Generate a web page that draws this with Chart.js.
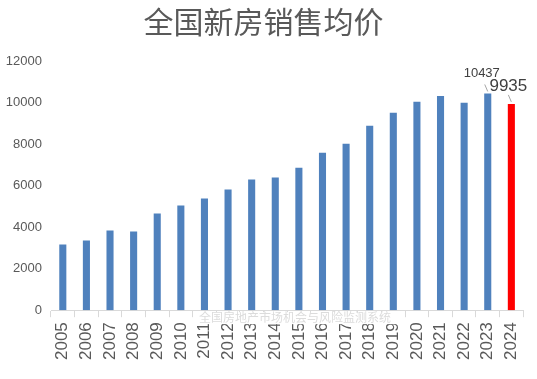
<!DOCTYPE html>
<html>
<head>
<meta charset="utf-8">
<script src="https://cdn.jsdelivr.net/npm/chart.js@4"></script>
<style>
  html, body { margin: 0; padding: 0; background: #fff; }
  #wrap { width: 537px; height: 379px; }
</style>
</head>
<body>
<div id="wrap"><canvas id="priceChart"></canvas></div>
<script>
const years = ['2005', '2006', '2007', '2008', '2009', '2010', '2011', '2012', '2013', '2014',
               '2015', '2016', '2017', '2018', '2019', '2020', '2021', '2022', '2023', '2024'];
const avgPrice = [3168, 3360, 3840, 3792, 4656, 5040, 5376, 5808, 6288, 6384,
                  6864, 7584, 8016, 8880, 9504, 10032, 10320, 9984, 10437, 9935];
const yTicks = [0, 2000, 4000, 6000, 8000, 10000, 12000];
const labelled = { '2023': '10437', '2024': '9935' };
const watermark = '全国房地产市场机会与风险监测系统';

const barColors = years.map(y => y === '2024' ? '#ff0000' : '#4f81bd');

// value labels with little leader lines + the grey watermark over the axis
const extrasPlugin = {
    id: 'extras',
    afterDraw(chart) {
        const c = chart.ctx;
        const meta = chart.getDatasetMeta(0);
        c.save();
        years.forEach((y, i) => {
            if (!labelled[y]) return;
            const bar = meta.data[i];
            const big = y === '2024';
            c.font = (big ? '17px' : '13px') + ' "Liberation Sans", Arial, sans-serif';
            c.fillStyle = '#404040';
            c.textAlign = 'center';
            c.textBaseline = 'middle';
            const tx = big ? bar.x - 3 : bar.x - 6;
            const ty = big ? bar.y - 18 : bar.y - 20;
            c.fillText(labelled[y], tx, ty);
            c.strokeStyle = '#a6a6a6';
            c.lineWidth = 1;
            c.beginPath();
            c.moveTo(bar.x - 3, bar.y - 9);
            c.lineTo(bar.x, bar.y - 2);
            c.stroke();
        });
        // watermark
        const area = chart.chartArea;
        c.font = '12px "Noto Sans CJK SC", sans-serif';
        const w = c.measureText(watermark).width;
        const cx = (area.left + area.right) / 2 + 8;
        c.fillStyle = '#fff';
        c.fillRect(cx - w / 2 - 6, area.bottom + 2, w + 12, 12);
        c.fillStyle = '#dcdcdc';
        c.textAlign = 'center';
        c.textBaseline = 'middle';
        c.fillText(watermark, cx, area.bottom + 7);
        c.restore();
    }
};

const ctx = document.getElementById('priceChart').getContext('2d');
const myChart = new Chart(ctx, {
    type: 'bar',
    data: {
        labels: years,
        datasets: [{
            label: '全国新房销售均价',
            data: avgPrice,
            backgroundColor: barColors,
            barPercentage: 0.3,
            categoryPercentage: 1
        }]
    },
    options: {
        responsive: true,
        maintainAspectRatio: false,
        animation: false,
        layout: { padding: { top: 0, left: 0, right: 10, bottom: 14 } },
        plugins: {
            legend: { display: false },
            tooltip: { enabled: false },
            title: {
                display: true,
                text: '全国新房销售均价',
                color: '#595959',
                font: { size: 30, family: '"Noto Sans CJK SC", sans-serif', weight: 'normal' },
                padding: { top: 4, bottom: 21 }
            }
        },
        scales: {
            x: {
                grid: { display: true, offset: true, drawOnChartArea: false, drawTicks: true, tickLength: 7, color: '#d9d9d9' },
                border: { display: true, color: '#d9d9d9' },
                ticks: {
                    color: '#595959',
                    font: { size: 17, family: '"Liberation Sans", Arial, sans-serif' },
                    maxRotation: 90,
                    minRotation: 90,
                    padding: 5
                }
            },
            y: {
                min: 0,
                max: 12000,
                afterBuildTicks(scale) { scale.ticks = yTicks.map(v => ({ value: v })); },
                grid: { display: false },
                border: { display: false },
                ticks: {
                    color: '#595959',
                    font: { size: 13, family: '"Liberation Sans", Arial, sans-serif' },
                    padding: 1,
                    callback: v => String(v)
                },
                afterFit(scale) { scale.width = 51; }
            }
        }
    },
    plugins: [extrasPlugin]
});
</script>
</body>
</html>
